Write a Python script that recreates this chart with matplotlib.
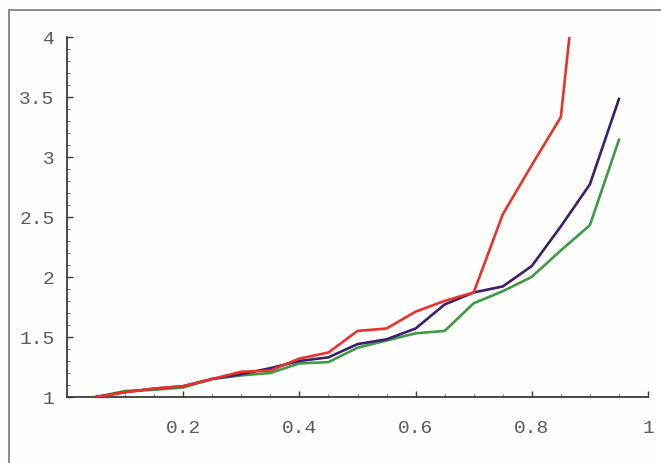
import matplotlib
matplotlib.use("Agg")
import matplotlib.pyplot as plt
from matplotlib.patches import Rectangle
from matplotlib.ticker import MultipleLocator

# Sample positions shared by the three curves
x = [0.05, 0.10, 0.15, 0.20, 0.25, 0.30, 0.35, 0.40, 0.45, 0.50,
     0.55, 0.60, 0.65, 0.70, 0.75, 0.80, 0.85, 0.90, 0.95]

red_vals = [1.00, 1.04, 1.07, 1.09, 1.15, 1.21, 1.22, 1.32, 1.37, 1.55,
            1.57, 1.71, 1.80, 1.87, 2.52, 2.93, 3.33, 5.60]
purple_vals = [1.00, 1.04, 1.07, 1.09, 1.15, 1.19, 1.24, 1.30, 1.33, 1.44,
               1.48, 1.57, 1.77, 1.87, 1.92, 2.09, 2.42, 2.77, 3.48]
green_vals = [1.00, 1.05, 1.06, 1.08, 1.15, 1.18, 1.20, 1.28, 1.29, 1.41,
              1.47, 1.53, 1.55, 1.78, 1.88, 2.00, 2.22, 2.43, 3.14]

xtick_vals = [0.2, 0.4, 0.6, 0.8, 1.0]
xtick_labels = ["0.2", "0.4", "0.6", "0.8", "1"]
ytick_vals = [1.0, 1.5, 2.0, 2.5, 3.0, 3.5, 4.0]
ytick_labels = ["1", "1.5", "2", "2.5", "3", "3.5", "4"]

W, H = 661, 464
fig = plt.figure(figsize=(W / 100, H / 100), dpi=100)
fig.patch.set_facecolor("#fefefc")

# Outer border line (top and left edges visible)
fig.patches.append(Rectangle((9 / W, -0.1), 1.2, 1 - 11 / H + 0.1,
                             transform=fig.transFigure, fill=False,
                             edgecolor="#8a8a8a", linewidth=1.4))

x0, x1 = 67, 648
ytop, ybot = 37.5, 398
ax = fig.add_axes([x0 / W, 1 - ybot / H, (x1 - x0) / W, (ybot - ytop) / H])
ax.set_facecolor("none")

lw = 1.9
ax.plot(x[:len(red_vals)], red_vals, color="#e8322c", lw=lw, solid_joinstyle="miter", zorder=3)
ax.plot(x, purple_vals, color="#3b1f6b", lw=lw, solid_joinstyle="miter", zorder=2)
ax.plot(x, green_vals, color="#3d9a45", lw=lw, solid_joinstyle="miter", zorder=1)

ax.set_xlim(0, 1)
ax.set_ylim(1, 4)

for s in ("top", "right"):
    ax.spines[s].set_visible(False)
for s in ("left", "bottom"):
    ax.spines[s].set_color("#3a3a3a")
    ax.spines[s].set_linewidth(1.3)

ax.set_xticks(xtick_vals)
ax.set_xticklabels(xtick_labels)
ax.set_yticks(ytick_vals)
ax.set_yticklabels(ytick_labels)
ax.xaxis.set_minor_locator(MultipleLocator(0.05))
ax.yaxis.set_minor_locator(MultipleLocator(0.1))

font = {"family": ["Liberation Mono", "DejaVu Sans Mono"], "size": 14}
for lab in ax.get_xticklabels() + ax.get_yticklabels():
    lab.set_fontfamily(font["family"])
    lab.set_fontsize(font["size"])
    lab.set_color("#5a5a5a")

ax.tick_params(axis="both", which="major", direction="in", length=4.5,
               width=1.0, color="#3a3a3a")
ax.tick_params(axis="both", which="minor", direction="in", length=2.5,
               width=0.7, color="#6a6a6a")
ax.tick_params(axis="x", which="major", pad=16)
ax.tick_params(axis="y", which="major", pad=9)

fig.savefig("out.png", dpi=100, facecolor=fig.get_facecolor())
